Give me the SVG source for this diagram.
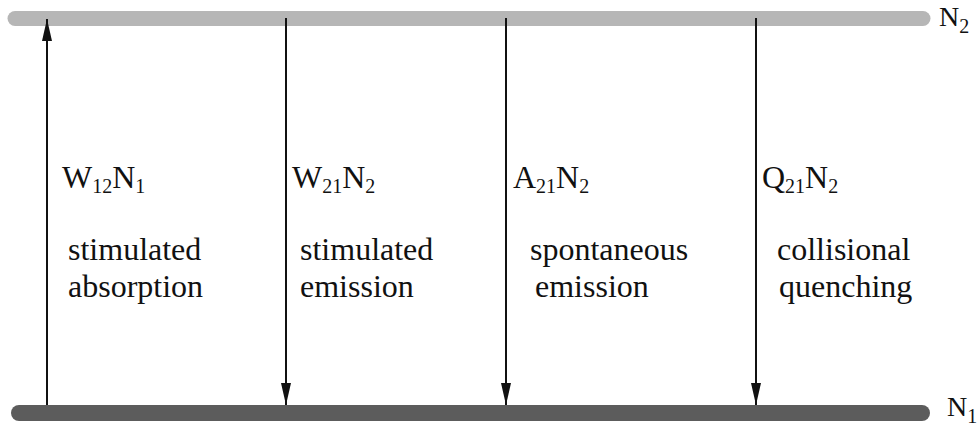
<svg xmlns="http://www.w3.org/2000/svg" width="980" height="430" viewBox="0 0 980 430">
<style>
.lbl{font-family:'Liberation Serif','Tinos','Times New Roman','DejaVu Serif',serif;font-size:32px;fill:#111}
.sub{font-size:20px}
.conn{stroke:#111;stroke-width:2;fill:none}
</style>
<defs>
<marker id="ah" viewBox="0 0 22 10" refX="22" refY="5" markerWidth="22" markerHeight="10" markerUnits="userSpaceOnUse" orient="auto">
<path d="M0,0 L22,5 L0,10 Z" fill="#111"/>
</marker>
</defs>
<rect width="980" height="430" fill="#fff"/>
<g id="level-N2">
<line x1="15" y1="18.5" x2="923" y2="18.5" stroke="#b6b6b6" stroke-width="15" stroke-linecap="round"/>
<text class="lbl" x="939" y="26" style="font-size:28px">N<tspan class="sub" dy="7">2</tspan></text>
</g>
<g id="level-N1">
<line x1="19" y1="413" x2="922" y2="413" stroke="#5c5c5c" stroke-width="16" stroke-linecap="round"/>
<text class="lbl" x="947" y="416" style="font-size:28px">N<tspan class="sub" dy="7">1</tspan></text>
</g>
<g id="connectors">
<line class="conn" x1="47" y1="405" x2="47" y2="19" marker-end="url(#ah)"/>
<line class="conn" x1="286" y1="18" x2="286" y2="405" marker-end="url(#ah)"/>
<line class="conn" x1="506" y1="18" x2="506" y2="405" marker-end="url(#ah)"/>
<line class="conn" x1="756" y1="18" x2="756" y2="405" marker-end="url(#ah)"/>
</g>
<g id="absorption">
<text class="lbl" x="62" y="188">W<tspan class="sub" dy="5">12</tspan><tspan dy="-5">N</tspan><tspan class="sub" dy="5">1</tspan></text>
<text class="lbl" x="68" y="260">stimulated</text>
<text class="lbl" x="68" y="297">absorption</text>
</g>
<g id="stim-emission">
<text class="lbl" x="292" y="188">W<tspan class="sub" dy="5">21</tspan><tspan dy="-5">N</tspan><tspan class="sub" dy="5">2</tspan></text>
<text class="lbl" x="300" y="260">stimulated</text>
<text class="lbl" x="300" y="297">emission</text>
</g>
<g id="spont-emission">
<text class="lbl" x="513" y="188">A<tspan class="sub" dy="5">21</tspan><tspan dy="-5">N</tspan><tspan class="sub" dy="5">2</tspan></text>
<text class="lbl" x="530" y="260">spontaneous</text>
<text class="lbl" x="535" y="297">emission</text>
</g>
<g id="quenching">
<text class="lbl" x="762" y="188">Q<tspan class="sub" dy="5">21</tspan><tspan dy="-5">N</tspan><tspan class="sub" dy="5">2</tspan></text>
<text class="lbl" x="777" y="260">collisional</text>
<text class="lbl" x="779" y="297">quenching</text>
</g>
</svg>
